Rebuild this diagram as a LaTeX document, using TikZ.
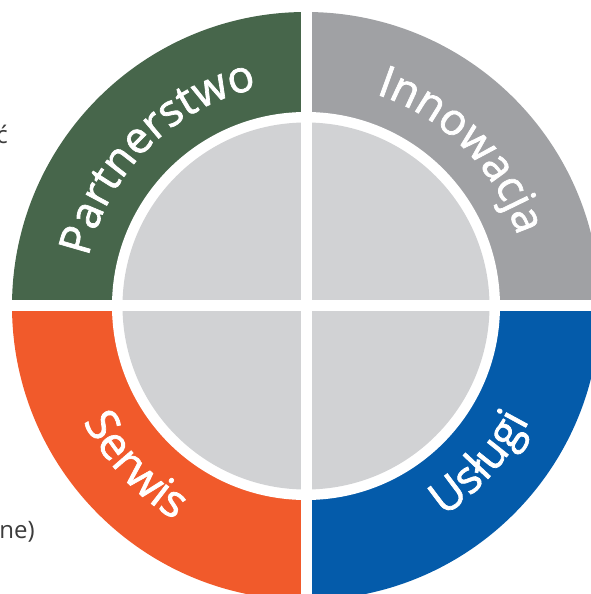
\documentclass[tikz,border=0pt]{standalone}
\usepackage{fontspec}
\setmainfont{Open Sans}
\newfontfamily\labelfont[FakeBold=1.6]{Open Sans}
\usetikzlibrary{decorations.text}
\definecolor{cgreen}{HTML}{47664B}
\definecolor{cgray}{HTML}{A0A1A4}
\definecolor{corange}{HTML}{F15A2B}
\definecolor{cblue}{HTML}{045BAA}
\definecolor{cinner}{HTML}{D1D2D4}
\definecolor{ctext}{HTML}{3C3C3C}
\begin{document}
\begin{tikzpicture}[x=1pt,y=1pt,
  ringlabel/.style={decorate, decoration={text along path, text align=center, text color=white}},
  fragment/.style={inner sep=0pt, text=ctext, font=\fontsize{24}{28}\selectfont},
]
\useasboundingbox (-306,-288) rectangle (285,306);
% quadrant sectors
\fill[cgreen]  (0,0) -- (180:294) arc[start angle=180,end angle=90,radius=294] -- cycle;
\fill[cgray]   (0,0) -- (90:294) arc[start angle=90,end angle=0,radius=294] -- cycle;
\fill[corange] (0,0) -- (180:294) arc[start angle=180,end angle=270,radius=294] -- cycle;
\fill[cblue]   (0,0) -- (270:294) arc[start angle=270,end angle=360,radius=294] -- cycle;
% inner disc with white separation
\fill[white] (0,0) circle (194);
\fill[cinner] (0,0) circle (183.5);
% white gaps
\fill[white] (-310,-5.5) rectangle (310,5.5);
\fill[white] (-5.5,-310) rectangle (5.5,310);
% labels along the ring
\path[ringlabel, decoration={text={|\labelfont\fontsize{44}{44}\selectfont|Partnerstwo}}]
  (180:223) arc[start angle=180,end angle=90,radius=223];
\path[ringlabel, decoration={text={|\labelfont\fontsize{44}{44}\selectfont|Innowacja}}]
  (90:223) arc[start angle=90,end angle=0,radius=223];
\path[ringlabel, decoration={text={|\labelfont\fontsize{45}{45}\selectfont|Serwis}}]
  (178:251) arc[start angle=178,end angle=268,radius=251];
\path[ringlabel, decoration={text={|\labelfont\fontsize{45}{45}\selectfont|Usługi}}]
  (273:251) arc[start angle=273,end angle=363,radius=251];
% cut-off text fragments at the left edge
\node[fragment, anchor=base east] (frag1) at (-298,162) {ć};
\node[fragment, anchor=base east] (frag2) at (-271,-232) {ne)};
\end{tikzpicture}
\end{document}
